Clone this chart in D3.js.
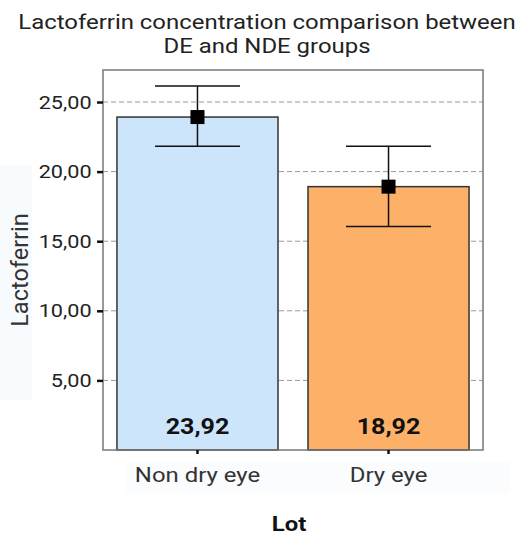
<!DOCTYPE html>
<html><head><meta charset="utf-8">
<script src="https://cdn.jsdelivr.net/npm/d3@7"></script>
<style>body{margin:0;background:#fff}svg{display:block}</style>
</head><body>
<svg id="c" width="524" height="535"></svg>
<script>
const categories = ["Non dry eye", "Dry eye"];
const means = [23.92, 18.92];
const ciLow = [21.82, 16.05];
const ciHigh = [26.15, 21.82];
const yTicks = [5, 10, 15, 20, 25];
const barColors = ["#cce5fb", "#fdb068"];
const titleLines = ["Lactoferrin concentration comparison between", "DE and NDE groups"];

const svg = d3.select("#c");
const FONT = "Roboto, sans-serif";
const SX = 1.14; // horizontal widening of glyphs as in the reference
const fmt = v => d3.format(".2f")(v).replace(".", ",");
const L = 103, R = 483, T = 70, B = 450;

// faint label backgrounds
svg.append("rect").attr("x", 0).attr("y", 165).attr("width", 32).attr("height", 235).attr("fill", "#f8fbfe");
svg.append("rect").attr("x", 126).attr("y", 462).attr("width", 384).attr("height", 30).attr("fill", "#fafcfe");

const y = d3.scaleLinear().domain([0, 27.3]).range([B, T]);
const x = d3.scaleBand().domain(categories).range([L, R]).paddingInner(0.157).paddingOuter(0.073);

// grid
svg.append("g").selectAll("line").data(yTicks).join("line")
  .attr("x1", L).attr("x2", R).attr("y1", d => y(d)).attr("y2", d => y(d))
  .attr("stroke", "#999").attr("stroke-width", 1).attr("stroke-dasharray", "5,3");

// bars
svg.append("g").selectAll("rect").data(categories).join("rect")
  .attr("x", d => x(d)).attr("width", x.bandwidth())
  .attr("y", (d, i) => y(means[i])).attr("height", (d, i) => B - y(means[i]))
  .attr("fill", (d, i) => barColors[i]).attr("stroke", "#333").attr("stroke-width", 1.5);

// error bars
const capW = 85;
const eb = svg.append("g").attr("stroke", "#111").attr("stroke-width", 1.5);
categories.forEach((c, i) => {
  const cx = x(c) + x.bandwidth() / 2;
  eb.append("line").attr("x1", cx).attr("x2", cx).attr("y1", y(ciHigh[i])).attr("y2", y(ciLow[i]));
  eb.append("line").attr("x1", cx - capW / 2).attr("x2", cx + capW / 2).attr("y1", y(ciHigh[i])).attr("y2", y(ciHigh[i]));
  eb.append("line").attr("x1", cx - capW / 2).attr("x2", cx + capW / 2).attr("y1", y(ciLow[i])).attr("y2", y(ciLow[i]));
  svg.append("rect").attr("x", cx - 7).attr("y", y(means[i]) - 7).attr("width", 14).attr("height", 14).attr("fill", "#000");
  svg.append("text").attr("transform", `translate(${cx},434) scale(${SX},1)`).attr("text-anchor", "middle")
    .attr("font-family", FONT).attr("font-weight", "bold").attr("font-size", 22)
    .attr("fill", "#111").text(fmt(means[i]));
});

// frame
svg.append("rect").attr("x", L).attr("y", T).attr("width", R - L).attr("height", B - T)
  .attr("fill", "none").attr("stroke", "#777").attr("stroke-width", 1.5);

// y axis
const ya = svg.append("g").attr("transform", `translate(${L},0)`)
  .call(d3.axisLeft(y).tickValues(yTicks).tickFormat(fmt).tickSize(6).tickPadding(4));
ya.select(".domain").remove();
ya.selectAll(".tick line").attr("stroke", "#111").attr("stroke-width", 2.5);
ya.selectAll(".tick text").attr("font-family", FONT).attr("font-size", 19)
  .attr("transform", `scale(${SX},1)`).attr("fill", "#222");

// x axis
const xa = svg.append("g").attr("transform", `translate(0,${B})`)
  .call(d3.axisBottom(x).tickSize(4).tickPadding(13));
xa.select(".domain").remove();
xa.selectAll(".tick line").attr("stroke", "#111").attr("stroke-width", 2.5);
xa.selectAll(".tick text").attr("font-family", FONT).attr("font-size", 21)
  .attr("transform", `scale(${SX},1)`).attr("fill", "#333");

// titles
svg.append("g").selectAll("text").data(titleLines).join("text")
  .attr("transform", (d, i) => `translate(267,${29 + i * 24}) scale(${SX},1)`).attr("text-anchor", "middle")
  .attr("font-family", FONT).attr("font-size", 21)
  .attr("fill", "#222").text(d => d);

svg.append("text").attr("transform", "translate(28,270) rotate(-90) scale(1.12,1.1)").attr("text-anchor", "middle")
  .attr("font-family", FONT).attr("font-size", 21)
  .attr("fill", "#333").text("Lactoferrin");

svg.append("text").attr("transform", `translate(289,531) scale(${SX},1)`).attr("text-anchor", "middle")
  .attr("font-family", FONT).attr("font-weight", "bold").attr("font-size", 21)
  .attr("fill", "#111").text("Lot");
</script>
</body></html>
